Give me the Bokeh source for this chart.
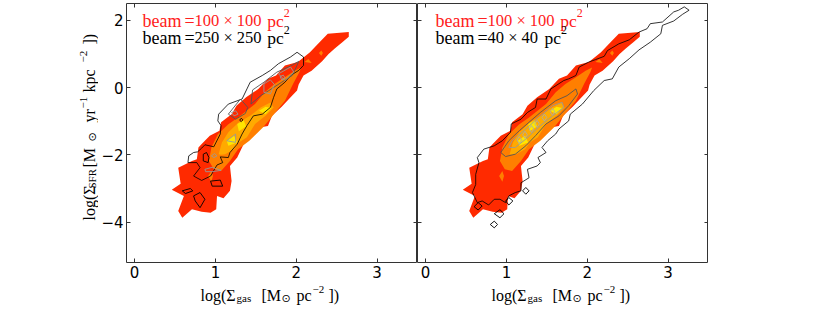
from math import pi
from bokeh.plotting import figure
from bokeh.layouts import row, column
from bokeh.models import Label, LinearAxis, FixedTicker
from bokeh.embed import file_html
from bokeh.resources import INLINE

# filled density shared by both panels
red_x = [2.65,2.65,2.57,2.48,2.40,2.32,2.19,2.09,2.03,2.01,1.93,1.82,1.70,1.65,1.51,1.43,1.35,1.27,1.18,1.20,1.18,1.10,1.02,1.01,0.94,0.83,0.71,0.59,0.54,0.61,0.46,0.57,0.54,0.71,0.77,0.79,0.83,0.93,1.05,1.07,1.20,1.26,1.38,1.53,1.65,1.75,1.86,2.02,2.17,2.27,2.39]
red_y = [1.65,1.51,1.35,1.17,1.00,0.78,0.50,0.36,0.09,-0.09,-0.29,-0.57,-0.84,-1.14,-1.20,-1.48,-1.68,-2.08,-2.33,-2.78,-3.07,-3.29,-3.22,-3.62,-3.72,-3.69,-3.62,-3.87,-3.67,-3.22,-3.04,-2.86,-2.38,-2.18,-2.13,-1.78,-1.68,-1.43,-1.28,-1.03,-0.79,-0.54,-0.29,-0.04,0.26,0.36,0.66,0.76,1.05,1.30,1.60]
orange_x = [2.06,1.98,1.86,1.73,1.61,1.49,1.28,1.16,1.03,0.95,0.92,0.98,1.07,1.18,1.28,1.42,1.59,1.69,1.86,1.96,2.04]
orange_y = [0.60,0.50,0.31,0.11,-0.14,-0.49,-0.89,-1.09,-1.39,-1.78,-2.18,-2.43,-2.48,-2.18,-1.83,-1.58,-1.18,-0.89,-0.39,0.11,0.46]
orange_b_x = [2.10,2.15,2.19]
orange_b_y = [0.76,0.85,0.73]
orange_c_x = [2.31,2.33,2.31,2.28]
orange_c_y = [1.10,1.03,0.95,1.03]
orange_d_x = [0.95,0.97,0.95,0.91]
orange_d_y = [-2.48,-2.63,-2.80,-2.63]
amber_x = [1.68,1.56,1.43,1.29,1.16,1.08,1.04,1.07,1.12,1.23,1.29,1.39,1.49,1.62,1.72]
amber_y = [-0.44,-0.59,-0.84,-1.03,-1.33,-1.63,-1.98,-2.00,-1.98,-1.83,-1.63,-1.48,-1.08,-0.84,-0.59]
yellow_a_x = [1.54,1.62,1.69,1.62]
yellow_a_y = [-0.69,-0.57,-0.61,-0.79]
yellow_b_x = [1.27,1.35,1.38,1.29]
yellow_b_y = [-1.08,-0.97,-1.16,-1.30]
yellow_c_x = [1.14,1.23,1.27,1.16]
yellow_c_y = [-1.58,-1.43,-1.63,-1.73]

# left panel contours
left_outer_x = [2.01,2.09,2.09,2.03,1.93,1.86,1.76,1.72,1.68,1.58,1.47,1.39,1.33,1.27,1.18,1.16,1.06,1.09,1.02,0.94,0.83,0.73,0.81,0.77,0.66,0.67,0.73,0.78,0.83,0.87,0.98,1.06,1.07,1.03,1.04,1.16,1.33,1.39,1.43,1.58,1.68,1.78,1.93,2.01]
left_outer_y = [1.05,0.91,0.66,0.51,0.36,0.16,-0.04,-0.29,-0.59,-0.79,-0.84,-1.13,-1.38,-1.68,-1.93,-2.08,-2.06,-2.23,-2.30,-2.63,-2.76,-2.63,-2.38,-2.23,-2.23,-2.03,-1.93,-1.91,-1.80,-1.70,-1.76,-1.38,-1.13,-0.99,-0.79,-0.49,-0.34,-0.04,0.16,0.36,0.51,0.71,0.91,1.05]
left_black_xs = [[0.85,0.89,0.92,0.91,0.85],[0.94,1.06,1.09,0.96],[0.59,0.69,0.72,0.63],[0.73,0.81,0.87,0.81,0.75],[1.32,1.34,1.32,1.30]]
left_black_ys = [[-1.98,-1.93,-2.08,-2.23,-2.18],[-2.78,-2.75,-2.93,-2.93],[-3.07,-3.00,-3.07,-3.15],[-3.22,-3.12,-3.32,-3.57,-3.37],[-0.91,-0.96,-1.01,-0.97]]
left_dark_xs = [[1.16,1.31,1.40,1.37,1.25],[1.44,1.46,1.60,1.76,1.93,2.03,2.01,1.95,1.82,1.66,1.56]]
left_dark_ys = [[-0.79,-0.34,-0.59,-0.77,-0.94],[-0.49,-0.07,0.16,0.46,0.64,0.78,0.66,0.36,0.16,-0.09,-0.24]]
left_light_xs = [[1.60,1.68,1.73,1.68,1.60],[1.78,1.93,1.97,1.86],[1.80,1.84,1.86,1.82],[1.20,1.25,1.28,1.23],[1.14,1.25,1.25],[0.95,0.99,1.02,0.98],[0.87,0.96,1.07,0.96,0.88]]
left_light_ys = [[0.11,0.23,0.09,-0.19,-0.14],[0.41,0.61,0.46,0.21],[0.33,0.37,0.29,0.23],[-0.74,-0.69,-0.79,-0.84],[-1.58,-1.38,-1.63],[-2.03,-1.96,-2.03,-2.08],[-2.43,-2.37,-2.46,-2.50,-2.50]]

# right panel contours
right_outer_x = [3.20,3.26,3.18,3.07,2.93,2.91,2.78,2.64,2.52,2.39,2.31,2.21,2.08,1.94,1.79,1.77,1.65,1.61,1.51,1.44,1.49,1.39,1.42,1.38,1.26,1.28,1.18,1.18,1.11,1.03,0.99,0.92,0.85,0.78,0.70,0.64,0.58,0.62,0.62,0.66,0.64,0.72,0.85,0.95,1.05,1.06,1.18,1.26,1.36,1.38,1.49,1.55,1.71,1.77,1.86,1.90,2.02,2.10,2.21,2.25,2.39,2.52,2.64,2.74,2.78,2.93,3.07,3.13]
right_outer_y = [2.40,2.30,2.18,1.98,1.85,1.60,1.35,1.12,0.86,0.61,0.26,0.21,-0.09,-0.49,-0.79,-0.99,-1.23,-1.38,-1.58,-1.78,-1.93,-2.08,-2.23,-2.33,-2.43,-2.68,-2.83,-3.07,-3.12,-3.22,-3.42,-3.32,-3.32,-3.49,-3.37,-3.42,-3.12,-2.88,-2.58,-2.23,-2.08,-1.83,-1.73,-1.58,-1.33,-1.08,-0.94,-0.74,-0.59,-0.34,-0.34,-0.04,0.21,0.26,0.36,0.61,0.76,0.83,0.93,1.10,1.30,1.42,1.65,1.75,1.90,1.95,2.25,2.30]
right_black_xs = [[1.24,1.28,1.24,1.20],[0.85,0.89,0.85,0.80],[0.92,0.97,0.92,0.85],[1.03,1.08,1.03,0.99],[0.65,0.70,0.65,0.60]]
right_black_ys = [[-2.97,-3.07,-3.17,-3.07],[-3.97,-4.07,-4.17,-4.07],[-3.63,-3.75,-3.87,-3.75],[-3.27,-3.37,-3.49,-3.37],[-3.42,-3.52,-3.64,-3.54]]
right_dark_xs = [[1.86,1.88,1.77,1.65,1.49,1.36,1.24,1.11,0.99,0.93,1.03,1.16,1.28,1.42,1.61,1.75]]
right_dark_ys = [[-0.04,-0.19,-0.54,-0.84,-1.08,-1.43,-1.73,-1.98,-2.05,-1.93,-1.58,-1.28,-1.03,-0.74,-0.39,-0.24]]
right_light_xs = [[1.07,1.24,1.42,1.57,1.69,1.71,1.57,1.42,1.24,1.11,1.03]]
right_light_ys = [[-1.58,-1.23,-0.84,-0.54,-0.44,-0.59,-0.84,-1.13,-1.53,-1.78,-1.78]]
knot_x = [1.16,1.23,1.31,1.38,1.47,1.57]
knot_y = [-1.56,-1.40,-1.23,-1.08,-0.89,-0.72]

x_ticks = [0,1,2,3]
y_ticks = [-4,-2,0,2]
y_tick_labels = {-4:"\u22124",-2:"\u22122",0:"0",2:"2"}
red_beam = "100 \u00d7 100"
black_beams = ["250 \u00d7 250","40 \u00d7 40"]

RED, ORANGE, AMBER, YELLOW = "#ff2a00", "#ff7f00", "#ffaa00", "#ffe600"
DARK, LIGHT = "#555555", "#999999"
SERIF, SANS = "Liberation Serif", "DejaVu Sans"
TOP_H = 281
YT_W = 98

def panel(left_space, show_y):
    p = figure(frame_width=291, frame_height=259, width=291+left_space, height=TOP_H,
               x_range=(-0.1,3.5), y_range=(-5.2,2.5), output_backend="svg", toolbar_location=None,
               min_border_left=left_space, min_border_right=0, min_border_top=3, min_border_bottom=TOP_H-262,
               margin=(0,0,0,0))
    p.grid.visible = False
    p.outline_line_color = "#333333"
    p.outline_line_width = 1
    p.background_fill_color = "white"
    p.border_fill_color = None
    for ax,t in ((p.xaxis[0],x_ticks),(p.yaxis[0],y_ticks)):
        ax.ticker = FixedTicker(ticks=t)
        ax.axis_line_color = None
        ax.major_tick_in = 4; ax.major_tick_out = 0
        ax.minor_tick_line_color = None
        ax.major_tick_line_color = "#333333"
        ax.major_label_text_font = SANS
        ax.major_label_text_font_size = "15px"
        ax.major_label_text_color = "black"
        ax.major_label_standoff = 3
    p.yaxis[0].major_label_overrides = y_tick_labels
    p.yaxis[0].major_label_orientation = "horizontal"
    if not show_y:
        p.yaxis[0].major_label_overrides = {t:"" for t in y_ticks}
        p.yaxis[0].major_label_standoff = 0
    for where,t in (("above",x_ticks),("right",y_ticks)):
        a = LinearAxis(ticker=FixedTicker(ticks=t), axis_line_color=None, major_tick_in=4, major_tick_out=0,
                       minor_tick_line_color=None, major_tick_line_color="#333333",
                       major_label_overrides={v:"" for v in t}, major_label_standoff=0)
        p.add_layout(a, where)
    for xs,ys,c in ((red_x,red_y,RED),(orange_x,orange_y,ORANGE),(orange_b_x,orange_b_y,ORANGE),
                    (orange_c_x,orange_c_y,ORANGE),(orange_d_x,orange_d_y,ORANGE),(amber_x,amber_y,AMBER),
                    (yellow_a_x,yellow_a_y,YELLOW),(yellow_b_x,yellow_b_y,YELLOW),(yellow_c_x,yellow_c_y,YELLOW)):
        p.patch(xs, ys, fill_color=c, line_color=None)
    return p

def strip(w, h):
    s = figure(frame_width=w, frame_height=h, width=w, height=h, x_range=(0,1), y_range=(0,1),
               output_backend="svg", toolbar_location=None, x_axis_location=None, y_axis_location=None,
               min_border=0, margin=(0,0,0,0))
    s.grid.visible = False
    s.outline_line_color = None
    return s

def txt(p, x0, y0, px, py, s, size, color="black", font=SERIF, angle=0):
    p.add_layout(Label(x=px-x0, y=py-y0, x_units="canvas", y_units="canvas", text=s, text_font=font,
                       text_font_size=f"{size}px", text_color=color,
                       angle=angle, text_baseline="alphabetic", text_align="left"))

def beams(p, x0, dx, second, pc2):
    for py,c,val,pcx in ((20,"#ff2020",red_beam,266.7),(37,"black",second,pc2)):
        txt(p, x0, 0, 142+dx, py, "beam", 18, c)
        txt(p, x0, 0, 184+dx, py, "=", 18, c)
        txt(p, x0, 0, 194+dx, py, val, 16.5, c)
        txt(p, x0, 0, pcx+dx, py, "pc", 17.5, c)
        txt(p, x0, 0, pcx+16.5+dx, py-8, "2", 12, c)

def xlabel(p, dx):
    y0 = TOP_H
    txt(p, 0, y0, 200+dx, 295, "log(\u03a3", 16)
    txt(p, 0, y0, 236+dx, 297.5, "gas", 11)
    txt(p, 0, y0, 261+dx, 295, "[M", 16)
    txt(p, 0, y0, 281+dx, 298, "\u2299", 11, font="DejaVu Sans")
    txt(p, 0, y0, 296+dx, 295, "pc", 16)
    txt(p, 0, y0, 312+dx, 289, "\u22122", 11)
    txt(p, 0, y0, 328+dx, 295, "])", 16)

p1 = panel(124-YT_W, True)
for xs,ys,c,w in (([left_outer_x],[left_outer_y],"black",0.8),(left_black_xs,left_black_ys,"black",0.9),
                  (left_dark_xs,left_dark_ys,DARK,0.9),(left_light_xs,left_light_ys,LIGHT,0.9)):
    p1.patches(xs, ys, fill_color=None, line_color=c, line_width=w)
beams(p1, YT_W, 0, black_beams[0], 266.7)

ytitle = strip(YT_W, TOP_H)
for yp,s,size,off,font in ((220,"log(\u03a3",16,0,SERIF),(188,"SFR",11,2.5,SERIF),(167,"[M",16,0,SERIF),
                      (141,"\u2299",11,3,"DejaVu Sans"),(122,"yr",16,0,SERIF),(108,"\u22121",11,-6,SERIF),
                      (92,"kpc",16,0,SERIF),(62,"\u22122",11,-6,SERIF),(44,"])",16,0,SERIF)):
    txt(ytitle, 0, 0, 89+off, yp, s, size, font=font, angle=pi/2)

p2 = panel(0, False)
for xs,ys,c,w in (([right_outer_x],[right_outer_y],"black",0.8),(right_black_xs,right_black_ys,"black",0.9),
                  (right_dark_xs,right_dark_ys,DARK,0.9),(right_light_xs,right_light_ys,LIGHT,0.9)):
    p2.patches(xs, ys, fill_color=None, line_color=c, line_width=w)
p2.scatter(knot_x, knot_y, marker="diamond", size=7, fill_color=None, line_color="#aaaaaa", line_width=0.9)
beams(p2, 415, 291, black_beams[1], 251)

xt = strip(710, 26)
xlabel(xt, 0)
xlabel(xt, 291)

page = column(row(ytitle, p1, p2, spacing=0), xt, spacing=0)
open("out.html","w").write(file_html(page, INLINE))
